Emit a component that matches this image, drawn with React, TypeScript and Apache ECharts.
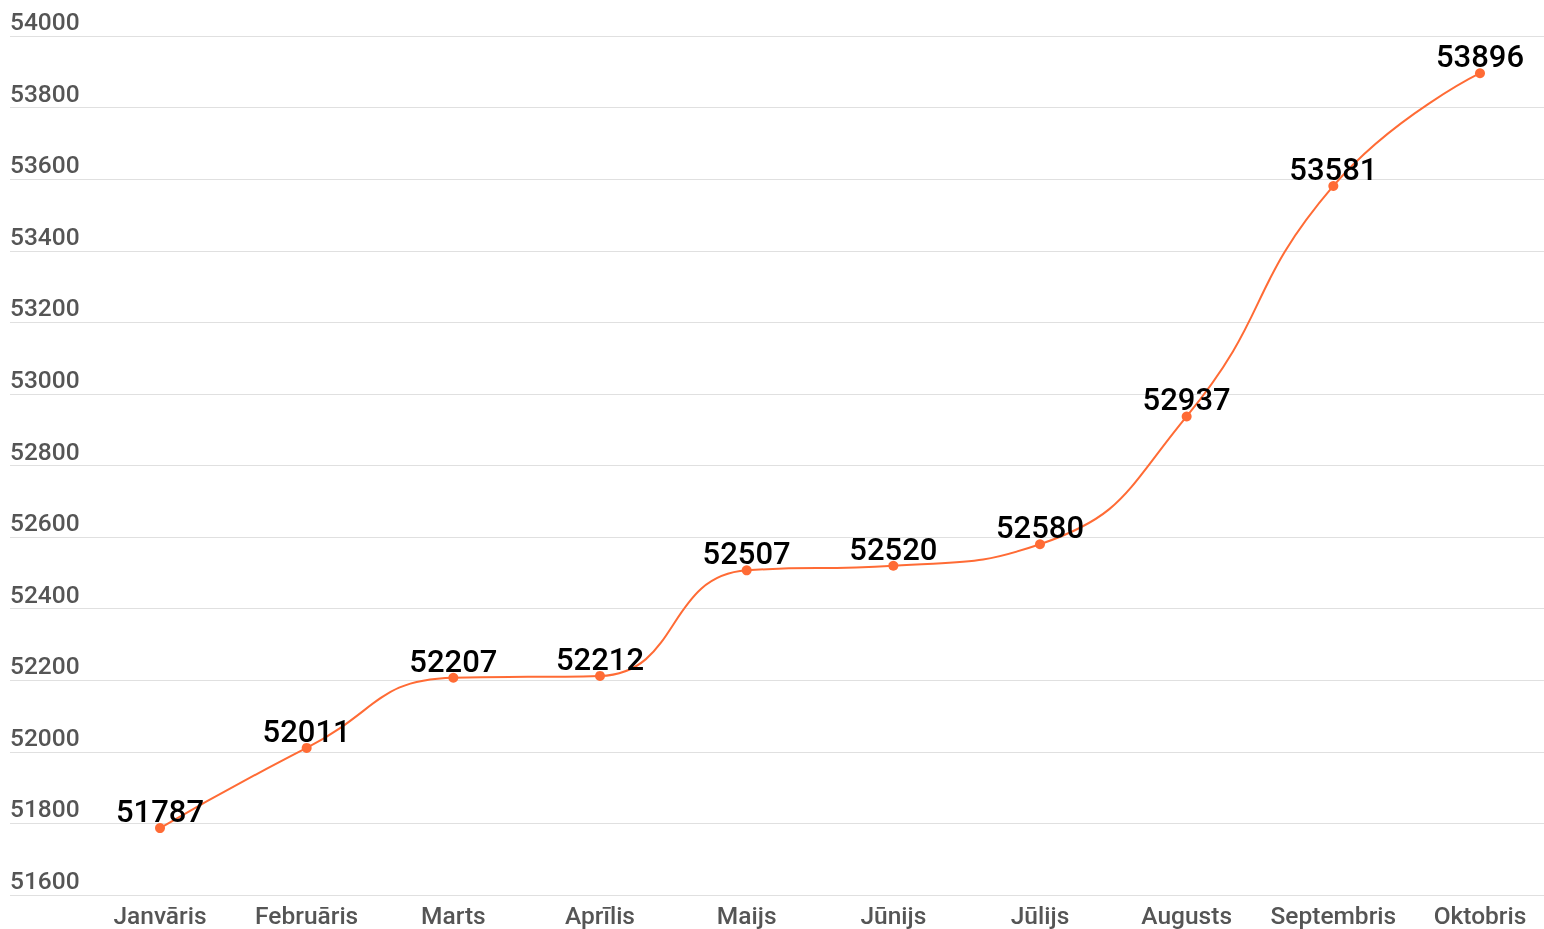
import React, { useEffect, useRef } from "react";
import * as echarts from "echarts";

const categories = ["Janvāris", "Februāris", "Marts", "Aprīlis", "Maijs", "Jūnijs", "Jūlijs", "Augusts", "Septembris", "Oktobris"];
const values = [51787, 52011, 52207, 52212, 52507, 52520, 52580, 52937, 53581, 53896];
const yMin = 51600;
const yMax = 54000;
const yStep = 200;

export default function App() {
  const ref = useRef<HTMLDivElement>(null);
  useEffect(() => {
    if (!ref.current) return;
    const chart = echarts.init(ref.current, undefined, { renderer: "svg" });
    const font = "Roboto";
    chart.setOption({
      animation: false,
      textStyle: { fontFamily: font },
      grid: [
        { left: 10, right: 0, top: 36, bottom: 34 },
        { left: 160, right: 64, top: 36, bottom: 34 },
      ],
      xAxis: [
        { type: "value", gridIndex: 0, show: false, min: 0, max: 1 },
        {
          type: "category",
          gridIndex: 1,
          data: categories,
          boundaryGap: false,
          axisLine: { show: false },
          axisTick: { show: false },
          axisLabel: { interval: 0, fontSize: 24.5, color: "#555", fontFamily: font, fontWeight: 500, margin: 8 },
        },
      ],
      yAxis: [
        {
          type: "value",
          gridIndex: 0,
          min: yMin,
          max: yMax,
          interval: yStep,
          axisLine: { show: false },
          axisTick: { show: false },
          splitLine: { show: true, lineStyle: { color: "#e0e0e0", width: 1 } },
          axisLabel: {
            inside: true,
            margin: 0,
            align: "left",
            verticalAlign: "bottom",
            padding: [0, 0, 2, 0],
            fontSize: 24.5,
            fontWeight: 500,
            color: "#555",
            fontFamily: font,
            formatter: (v: number) => String(v),
          },
        },
        { type: "value", gridIndex: 1, min: yMin, max: yMax, interval: yStep, show: false, splitLine: { show: false } },
      ],
      series: [
        {
          type: "line",
          xAxisIndex: 1,
          yAxisIndex: 1,
          data: values,
          smooth: true,
          symbol: "circle",
          symbolSize: 10,
          itemStyle: { color: "#FF6B35" },
          lineStyle: { color: "#FF6B35", width: 2 },
          label: {
            show: true,
            position: "top",
            distance: -4,
            fontSize: 31,
            fontWeight: 500,
            color: "#000",
            fontFamily: font,
          },
        },
      ],
    });
    return () => chart.dispose();
  }, []);
  return <div ref={ref} style={{ position: "fixed", left: 0, top: 0, width: 1544, height: 929 }} />;
}
